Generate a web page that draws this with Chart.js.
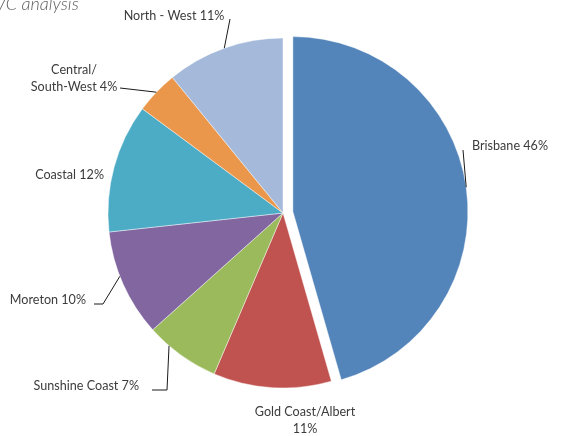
<!DOCTYPE html>
<html>
<head>
<meta charset="utf-8">
<title>Regional share</title>
<script src="https://cdn.jsdelivr.net/npm/chart.js@4.4.1/dist/chart.umd.min.js"></script>
<style>
    html, body { margin: 0; padding: 0; background: #ffffff; }
    #wrap { width: 563px; height: 436px; position: relative; }
</style>
</head>
<body>
<div id="wrap"><canvas id="regionPie" width="563" height="436"></canvas></div>
<script>
/* ========================================================
   DATA
======================================================== */
const regions = ['Brisbane', 'Gold Coast/Albert', 'Sunshine Coast', 'Moreton', 'Coastal', 'Central/South-West', 'North - West'];
const shares  = [46, 11, 7, 10, 12, 4, 11];

// label text, one entry per line
const labelLines = [
    ['Brisbane 46%'],
    ['Gold Coast/Albert', '11%'],
    ['Sunshine Coast 7%'],
    ['Moreton 10%'],
    ['Coastal 12%'],
    ['Central/', 'South-West 4%'],
    ['North - West 11%']
];

const sliceColors = ['#5384ba', '#c0534f', '#9bba5c', '#8166a0', '#4cabc5', '#ea974b', '#a5b9da'];
// pulled-out distance in px (kept off chart.js "offset", which also grows the radius)
const explode = [10, 0, 0, 0, 0, 0, 0];

/* ========================================================
   LABEL LAYOUT (text anchor + leader elbow points)
======================================================== */
const labelLayout = [
    { x: 472, y: 146, align: 'left',   leader: [[463, 150]],            frac: 0.5 },
    { x: 305, y: 412, align: 'center', leader: null },
    { x: 139, y: 386, align: 'right',  leader: [[152, 390], [167, 390]], frac: 0.7 },
    { x: 86,  y: 300, align: 'right',  leader: [[94, 304], [103, 304]],  frac: 0.58 },
    { x: 104, y: 175, align: 'right',  leader: null },
    { x: 74,  y: 70,  align: 'center', leader: [[120, 88]],             frac: 0.5 },
    { x: 174, y: 16,  align: 'center', leader: [[230, 19]],             frac: 0.5 }
];

const LINE_H = 17;

// shift exploded slices out along their middle angle
const explodeSlices = {
    id: 'explodeSlices',
    beforeDatasetsDraw(chart) {
        chart.getDatasetMeta(0).data.forEach((arc, i) => {
            if (!explode[i] || arc._exploded) return;
            const mid = (arc.startAngle + arc.endAngle) / 2;
            arc.x += Math.cos(mid) * explode[i];
            arc.y += Math.sin(mid) * explode[i];
            arc._exploded = true;
        });
    }
};

const sliceLabels = {
    id: 'sliceLabels',
    afterDatasetsDraw(chart) {
        const ctx  = chart.ctx;
        const arcs = chart.getDatasetMeta(0).data;

        ctx.save();

        // leftover heading from the page above
        ctx.font = 'italic 300 18px Lato';
        ctx.fillStyle = '#5f5f5f';
        ctx.textAlign = 'left';
        ctx.textBaseline = 'alphabetic';
        ctx.fillText('VC analysis', -5, 10);

        ctx.font = '12.6px Lato';
        ctx.fillStyle = '#3c3c3c';
        ctx.textBaseline = 'middle';

        arcs.forEach((arc, i) => {
            const cfg = labelLayout[i];
            const { x, y, startAngle, endAngle, outerRadius } = arc.getProps(['x', 'y', 'startAngle', 'endAngle', 'outerRadius'], true);

            if (cfg.leader) {
                const a  = startAngle + (endAngle - startAngle) * cfg.frac;
                const ax = x + Math.cos(a) * outerRadius;
                const ay = y + Math.sin(a) * outerRadius;

                ctx.beginPath();
                ctx.moveTo(cfg.leader[0][0], cfg.leader[0][1]);
                cfg.leader.slice(1).forEach(p => ctx.lineTo(p[0], p[1]));
                ctx.lineTo(ax, ay);
                ctx.lineWidth = 1;
                ctx.strokeStyle = '#1a1a1a';
                ctx.stroke();
            }

            ctx.textAlign = cfg.align;
            labelLines[i].forEach((line, k) => {
                ctx.fillText(line, cfg.x, cfg.y + k * LINE_H);
            });
        });

        ctx.restore();
    }
};

/* ========================================================
   CHART
======================================================== */
const ctx = document.getElementById('regionPie').getContext('2d');
new Chart(ctx, {
    type: 'pie',
    data: {
        labels: regions,
        datasets: [{
            data: shares,
            backgroundColor: sliceColors,
            borderColor: 'rgba(255, 255, 255, 0.55)',
            borderWidth: 0.8
        }]
    },
    options: {
        responsive: false,
        animation: false,
        radius: 175,
        layout: { padding: { left: 40, right: 37, top: 20, bottom: 30 } },
        plugins: {
            legend:  { display: false },
            tooltip: { enabled: false }
        }
    },
    plugins: [explodeSlices, sliceLabels]
});
</script>
</body>
</html>
